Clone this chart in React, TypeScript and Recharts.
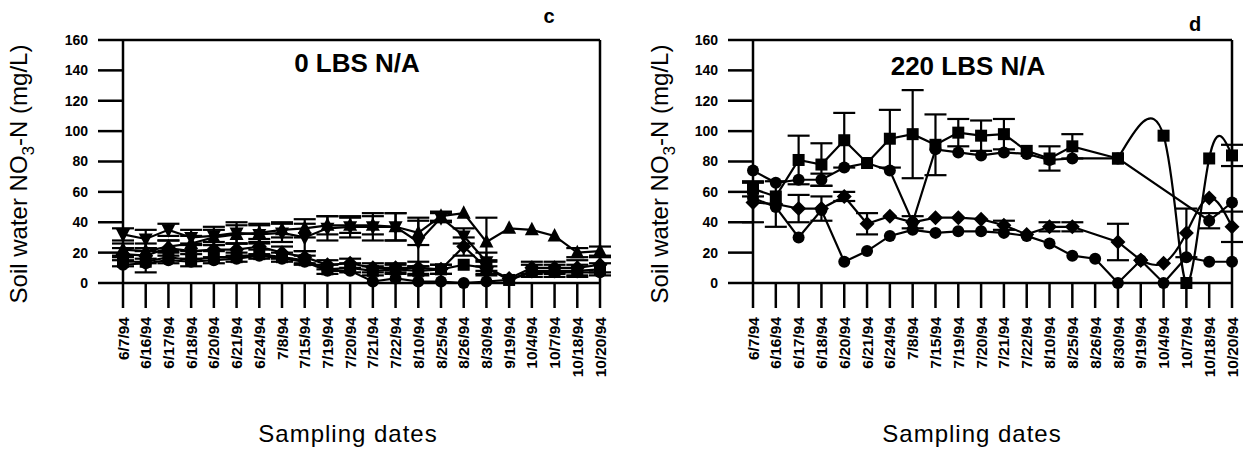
import React from "react";
import { LineChart, Line, XAxis, YAxis, ErrorBar, ReferenceLine } from "recharts";

const FONT = '"Liberation Sans", Arial, Helvetica, sans-serif';

const dates = [
  "6/7/94", "6/16/94", "6/17/94", "6/18/94", "6/20/94", "6/21/94", "6/24/94", "7/8/94",
  "7/15/94", "7/19/94", "7/20/94", "7/21/94", "7/22/94", "8/10/94", "8/25/94", "8/26/94",
  "8/30/94", "9/19/94", "10/4/94", "10/7/94", "10/18/94", "10/20/94",
];
const yTicks = [0, 20, 40, 60, 80, 100, 120, 140, 160];

// panel c - 0 LBS N/A
const cTri = [22, 21, 24, 26, 30, 32, 33, 35, 36, 38, 38, 38, 37, 33, 44, 46, 27, 36, 35, 31, 20, 21];
const cTriErr = [4, 5, 4, 5, 5, 6, 6, 5, 6, 6, 5, 6, 9, 8, 3, null, 16, null, null, null, 3, 3];
const cInv = [32, 29, 35, 30, 31, 33, 32, 33, 30, 36, 37, 37, 37, 27, 43, 31, 14, null, null, null, null, null];
const cInvErr = [4, 6, 4, 5, 6, 7, 6, 6, 9, 8, 7, 9, 9, 16, 3, 5, 6, null, null, null, null, null];
const cDia = [19, 18, 23, 21, 22, 22, 24, 20, 17, 12, 13, 10, 10, 10, 9, 24, 10, 3, 10, 10, 10, 12];
const cDiaErr = [4, 5, 5, 5, 5, 4, 5, 4, 4, 3, 3, 3, 3, 4, 3, 6, 5, null, 4, 4, 5, 5];
const cSq = [14, 14, 17, 15, 17, 17, 19, 17, 15, 9, 10, 8, 9, 8, 9, 12, 10, 2, 8, 8, 8, 9];
const cSqErr = [3, 7, 4, 4, 4, 3, 3, 3, 3, 3, 3, 3, 3, 3, 3, null, 4, null, 4, 4, 4, 4];
const cCir = [12, 13, 15, 14, 15, 16, 18, 16, 14, 8, 8, 1, 3, 1, 1, 0, 1, 2, 7, 7, 7, 7];

// panel d - 220 LBS N/A
const dSq = [62, 57, 81, 78, 94, 79, 95, 98, 91, 99, 97, 98, 87, 82, 90, null, 82, null, 97, 0, 82, 84];
const dSqErr = [5, null, 16, 14, 18, null, 19, 29, 20, 9, 10, 10, null, 8, 8, null, null, null, null, null, null, 7];
const dCir = [74, 66, 68, 68, 76, 79, 74, 40, 88, 86, 84, 86, 85, 81, 82, null, 82, null, null, null, 41, 53];
const dCirErr = [null, null, null, 4, null, null, null, null, null, null, null, null, null, null, null, null, null, null, null, null, 5, null];
const dDia = [53, 52, 49, 49, 57, 39, 44, 40, 43, 43, 42, 38, 32, 37, 37, null, 27, 15, 13, 33, 56, 37];
const dDiaErr = [13, 15, 9, 8, 3, 7, null, 4, null, null, null, 3, null, 3, 3, null, 12, null, null, 16, null, 10];
const dLow = [56, 50, 30, 48, 14, 21, 31, 35, 33, 34, 34, 33, 31, 26, 18, 16, 0, 15, 0, 17, 14, 14];

type Shape = "up" | "down" | "diamond" | "square" | "circle";

interface Series {
  key: string;
  shape: Shape;
  values: (number | null)[];
  err?: (number | null)[];
  split?: number; // from this index on the curve is smoothed
}

const seriesC: Series[] = [
  { key: "tri", shape: "up", values: cTri, err: cTriErr },
  { key: "inv", shape: "down", values: cInv, err: cInvErr },
  { key: "dia", shape: "diamond", values: cDia, err: cDiaErr },
  { key: "sq", shape: "square", values: cSq, err: cSqErr },
  { key: "cir", shape: "circle", values: cCir },
];

const seriesD: Series[] = [
  { key: "sq", shape: "square", values: dSq, err: dSqErr, split: 16 },
  { key: "cir", shape: "circle", values: dCir, err: dCirErr },
  { key: "dia", shape: "diamond", values: dDia, err: dDiaErr, split: 17 },
  { key: "low", shape: "circle", values: dLow },
];

const buildRows = (series: Series[]) =>
  dates.map((date, i) => {
    const row: Record<string, string | number | null | undefined> = { date };
    series.forEach((s) => {
      const v = s.values[i];
      const e = s.err && s.err[i] != null && v != null ? s.err[i] : undefined;
      const split = s.split ?? dates.length;
      row[s.key + "H"] = i <= split ? v : null;
      row[s.key + "HE"] = i <= split ? e : undefined;
      row[s.key + "T"] = i >= split ? v : null;
      row[s.key + "TE"] = i > split ? e : undefined;
    });
    return row;
  });

const Marker = (props: any) => {
  const { cx, cy, value, shape, index, dataKey } = props;
  const k = `${dataKey}-${index}`;
  if (cx == null || cy == null || value == null) return <g key={k} />;
  if (shape === "circle") return <circle key={k} cx={cx} cy={cy} r={6} fill="#000" />;
  if (shape === "square") return <rect key={k} x={cx - 6} y={cy - 6} width={12} height={12} fill="#000" />;
  if (shape === "diamond")
    return <polygon key={k} points={`${cx},${cy - 7.5} ${cx + 7.5},${cy} ${cx},${cy + 7.5} ${cx - 7.5},${cy}`} fill="#000" />;
  if (shape === "up")
    return <polygon key={k} points={`${cx},${cy - 8} ${cx + 7},${cy + 5.5} ${cx - 7},${cy + 5.5}`} fill="#000" />;
  return <polygon key={k} points={`${cx},${cy + 8} ${cx + 7},${cy - 5.5} ${cx - 7},${cy - 5.5}`} fill="#000" />;
};

const DateTick = (props: any) => {
  const { x, y, payload } = props;
  return (
    <g transform={`translate(${x},${y})`}>
      <text
        transform="rotate(-90)"
        textAnchor="end"
        dy="0.36em"
        fontSize={15.5}
        fontWeight="bold"
        fontFamily={FONT}
        fill="#000"
      >
        {payload.value}
      </text>
    </g>
  );
};

interface PanelProps {
  left: number;
  width: number;
  marginRight: number;
  series: Series[];
  title: string;
  letter: string;
  titleX: number;
  titleY: number;
  letterX: number;
  letterY: number;
  yLabelX: number;
  xLabelX: number;
}

function Panel(p: PanelProps) {
  const rows = buildRows(p.series);
  const axisStyle = { stroke: "#000", strokeWidth: 2.5 };

  const lines: React.ReactElement[] = [];
  p.series.forEach((s) => {
    const parts = s.split != null ? ["H", "T"] : ["H"];
    parts.forEach((part) => {
      lines.push(
        <Line
          key={s.key + part}
          dataKey={s.key + part}
          type={part === "T" ? "natural" : "linear"}
          stroke="#000"
          strokeWidth={2.2}
          connectNulls
          isAnimationActive={false}
          dot={(props: any) => <Marker {...props} shape={s.shape} />}
          activeDot={false}
        >
          {s.err && (
            <ErrorBar
              dataKey={s.key + part + "E"}
              width={11}
              stroke="#000"
              strokeWidth={2.2}
              direction="y"
              isAnimationActive={false}
            />
          )}
        </Line>
      );
    });
  });

  return (
    <div style={{ position: "absolute", left: p.left, top: 0 }}>
      <LineChart
        width={p.width}
        height={450}
        data={rows}
        margin={{ top: 40, right: p.marginRight, bottom: 0, left: 0 }}
      >
        <XAxis
          dataKey="date"
          height={167}
          interval={0}
          tickSize={25}
          tickMargin={9}
          axisLine={axisStyle}
          tickLine={axisStyle}
          tick={(props: any) => <DateTick {...props} />}
          label={{
            content: () => (
              <text x={p.xLabelX} y={442} textAnchor="middle" fontSize={24} letterSpacing={1} fontFamily={FONT} fill="#000">
                Sampling dates
              </text>
            ),
          }}
        />
        <YAxis
          type="number"
          domain={[0, 160]}
          ticks={yTicks}
          width={123}
          tickSize={25}
          tickMargin={10}
          axisLine={axisStyle}
          tickLine={axisStyle}
          tick={{ fill: "#000", fontSize: 14, fontWeight: "bold", fontFamily: FONT }}
          label={{
            content: () => (
              <text
                transform={`translate(${p.yLabelX},174) rotate(-90)`}
                textAnchor="middle"
                dy="0.35em"
                fontSize={24}
                fontFamily={FONT}
                fill="#000"
              >
                Soil water NO
                <tspan dy={7} fontSize={17}>3</tspan>
                <tspan dy={-7}>-N (mg/L)</tspan>
              </text>
            ),
          }}
        />
        <ReferenceLine
          y={160}
          stroke="#000"
          strokeWidth={2.5}
          label={{
            content: () => (
              <g>
                <text x={p.titleX} y={p.titleY} textAnchor="middle" fontSize={26} fontWeight="bold" fontFamily={FONT} fill="#000">
                  {p.title}
                </text>
                <text x={p.letterX} y={p.letterY} textAnchor="middle" fontSize={20} fontWeight="bold" fontFamily={FONT} fill="#000">
                  {p.letter}
                </text>
              </g>
            ),
          }}
        />
        <ReferenceLine x={dates[dates.length - 1]} stroke="#000" strokeWidth={2.5} />
        {lines}
      </LineChart>
    </div>
  );
}

export default function App() {
  return (
    <div style={{ position: "absolute", left: 0, top: 0, width: 1249, height: 450, background: "#fff" }}>
      <Panel
        left={0}
        width={620}
        marginRight={20}
        series={seriesC}
        title="0 LBS N/A"
        letter="c"
        titleX={357}
        titleY={72}
        letterX={549}
        letterY={23}
        yLabelX={19}
        xLabelX={348}
      />
      <Panel
        left={630}
        width={619}
        marginRight={17}
        series={seriesD}
        title="220 LBS N/A"
        letter="d"
        titleX={338}
        titleY={75}
        letterX={565}
        letterY={31}
        yLabelX={30}
        xLabelX={342}
      />
    </div>
  );
}
